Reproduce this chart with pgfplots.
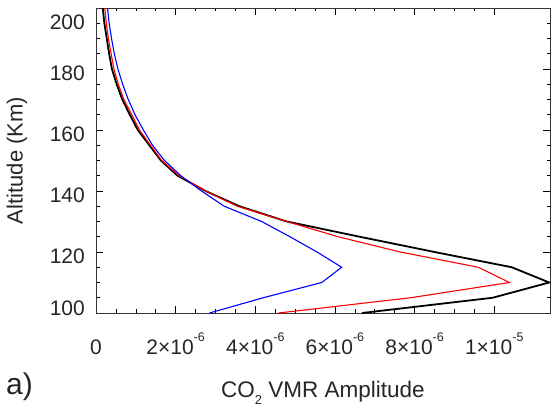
\documentclass[border=0pt]{standalone}
\usepackage{fontspec}
\setmainfont{Liberation Sans}
\usepackage{pgfplots}
\pgfplotsset{compat=1.18}
\newcommand\sci[2]{#1×10\raisebox{13pt}{\fontsize{12.5}{12.5}\selectfont #2}}
\begin{document}
\begin{tikzpicture}
\begin{axis}[
  at={(0,0)}, anchor=south west,
  width=454pt, height=305pt, scale only axis,
  xmin=0, xmax=11.4, ymin=100, ymax=200,
  xtick={0,2,4,6,8,10},
  xticklabels={0,\sci{2}{-6},\sci{4}{-6},\sci{6}{-6},\sci{8}{-6},\sci{1}{-5}},
  minor x tick num=3,
  ytick={100,120,140,160,180,200},
  yticklabels={\raisebox{9pt}{100},120,140,160,180,\raisebox{-10pt}{200}},
  minor y tick num=3,
  tick align=inside,
  major tick length=7pt, minor tick length=3.5pt,
  tick style={black, line width=0.6pt},
  axis line style={black!80, line width=0.8pt},
  tick label style={font=\fontsize{21}{21}\selectfont, text=black!85},
  xticklabel style={anchor=north, inner sep=0pt, text height=15pt, text depth=0pt, yshift=-26pt},
  yticklabel style={anchor=east, inner sep=0pt, text height=15pt, text depth=0pt, xshift=-11pt, yshift=-4pt},
  ylabel={Altitude (Km)},
  ylabel style={at={(axis description cs:-0.174,0.5)}, anchor=center, font=\fontsize{22}{22}\selectfont, text=black!85},
  xlabel={CO\raisebox{-7pt}{\fontsize{13}{13}\selectfont 2} VMR Amplitude},
  xlabel style={at={(axis description cs:0.5,0)}, anchor=base, yshift=-84pt, font=\fontsize{22.5}{22.5}\selectfont, text=black!85},
  clip=false,
]
\addplot[black, line width=1.8pt] coordinates {
(6.68,100) (9.96,105) (11.38,110) (10.44,115) (8.5,120) (6.62,125) (4.79,130) (3.6,135) (2.75,140) (2.05,145) (1.63,150) (1.34,155) (1.05,160) (0.85,165) (0.66,170) (0.52,175) (0.40,180) (0.33,185) (0.27,190) (0.21,195) (0.17,200)};
\addplot[red, line width=1.1pt] coordinates {
(4.58,100) (7.9,105) (10.38,110) (9.6,115) (7.64,120) (6.08,125) (4.79,130) (3.55,135) (2.75,140) (2.09,145) (1.65,150) (1.37,155) (1.09,160) (0.90,165) (0.70,170) (0.56,175) (0.45,180) (0.38,185) (0.31,190) (0.26,195) (0.22,200)};
\addplot[blue, line width=1.1pt] coordinates {
(2.85,100) (4.2,105) (5.67,110) (6.17,115) (5.55,120) (4.87,125) (4.16,130) (3.22,135) (2.65,140) (2.13,145) (1.72,150) (1.42,155) (1.19,160) (0.98,165) (0.81,170) (0.67,175) (0.55,180) (0.46,185) (0.39,190) (0.33,195) (0.29,200)};
\end{axis}
\node[anchor=base west, inner sep=0pt, font=\fontsize{30}{30}\selectfont, text=black!85] at (-90pt,-82pt) {a)};
\pgfresetboundingbox
\path (-96pt,-93pt) rectangle (455pt,313pt);
\end{tikzpicture}
\end{document}
